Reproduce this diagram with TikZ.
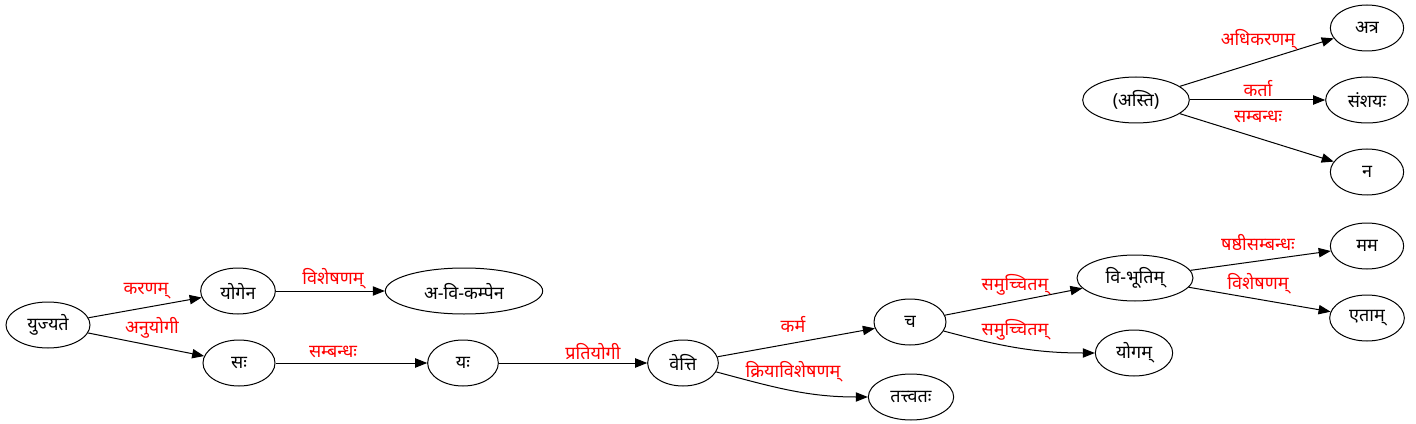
\documentclass[tikz,border=0pt]{standalone}
\usepackage{fontspec}
\newfontfamily\deva[Script=Devanagari]{Noto Sans}
\usetikzlibrary{shapes.geometric,arrows.meta}
\tikzset{
  nd/.style={ellipse, draw, line width=0.75pt, inner sep=0pt, minimum height=34.5pt, font=\deva\fontsize{13.5}{15}\selectfont},
  lbl/.style={text=red, inner sep=0pt, font=\deva\fontsize{13.5}{15}\selectfont},
  ed/.style={draw, line width=0.75pt, -{Triangle[length=9pt,width=7pt]}}
}
\begin{document}
\begin{tikzpicture}[x=0.75pt,y=-0.75pt]
\useasboundingbox (0,0) rectangle (1416,424);
% nodes
\node[nd, minimum width=63pt] (yujyate) at (48,325) {युज्यते};
\node[nd, minimum width=56pt] (yogena) at (238,291) {योगेन};
\node[nd, minimum width=118pt] (akampena) at (464,291) {अ-वि-कम्पेन};
\node[nd, minimum width=54pt] (sah) at (239,363) {सः};
\node[nd, minimum width=53pt] (yah) at (463,363) {यः};
\node[nd, minimum width=53pt] (vetti) at (683,363) {वेत्ति};
\node[nd, minimum width=64pt] (tattvatah) at (911,397) {तत्त्वतः};
\node[nd, minimum width=54pt] (ca) at (910,322) {च};
\node[nd, minimum width=58pt] (yogam) at (1134,353) {योगम्};
\node[nd, minimum width=87pt] (vibhutim) at (1135,278) {वि-भूतिम्};
\node[nd, minimum width=55pt] (mama) at (1367,246) {मम};
\node[nd, minimum width=56pt] (etam) at (1367,318) {एताम्};
\node[nd, minimum width=80pt] (asti) at (1136,100) {(अस्ति)};
\node[nd, minimum width=55pt] (atra) at (1367,28) {अत्र};
\node[nd, minimum width=62pt] (samsayah) at (1367,100) {संशयः};
\node[nd, minimum width=55pt] (na) at (1367,172) {न};
% edges
\draw[ed] (yujyate) -- (yogena);
\draw[ed] (yujyate) -- (sah);
\draw[ed] (yogena) -- (akampena);
\draw[ed] (sah) -- (yah);
\draw[ed] (yah) -- (vetti);
\draw[ed] (vetti) -- (ca);
\draw[ed] (vetti) to[out=-15,in=180] (tattvatah);
\draw[ed] (ca) -- (vibhutim);
\draw[ed] (ca) to[out=-15,in=180] (yogam);
\draw[ed] (vibhutim) -- (mama);
\draw[ed] (vibhutim) -- (etam);
\draw[ed] (asti) -- (atra);
\draw[ed] (asti) -- (samsayah);
\draw[ed] (asti) -- (na);
% labels
\node[lbl] (l1) at (146,291) {करणम्};
\node[lbl] (l2) at (152,328) {अनुयोगी};
\node[lbl] (l3) at (333,279) {विशेषणम्};
\node[lbl] (l4) at (333,352) {सम्बन्धः};
\node[lbl] (l5) at (593,352) {प्रतियोगी};
\node[lbl] (l6) at (793,324) {कर्म};
\node[lbl] (l7) at (793,372) {क्रियाविशेषणम्};
\node[lbl] (l8) at (1015,285) {समुच्चितम्};
\node[lbl] (l9) at (1015,330) {समुच्चितम्};
\node[lbl] (l10) at (1258,243) {षष्ठीसम्बन्धः};
\node[lbl] (l11) at (1258,284) {विशेषणम्};
\node[lbl] (l12) at (1258,40) {अधिकरणम्};
\node[lbl] (l13) at (1258,89) {कर्ता};
\node[lbl] (l14) at (1258,117) {सम्बन्धः};
\end{tikzpicture}
\end{document}
